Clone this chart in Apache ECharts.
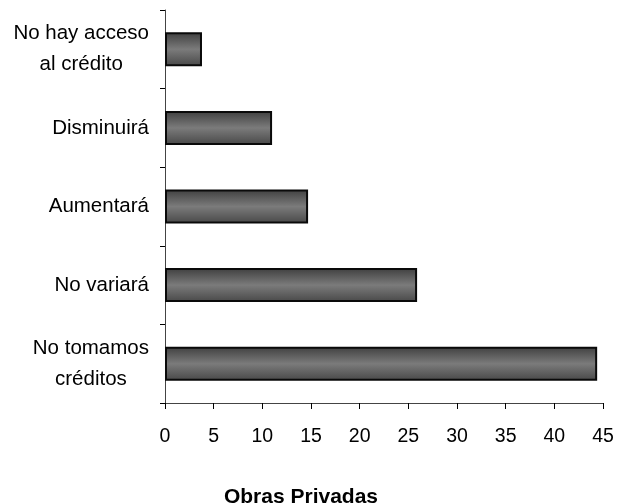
<!DOCTYPE html>
<html>
<head>
<meta charset="utf-8">
<script src="https://cdn.jsdelivr.net/npm/echarts@6/dist/echarts.min.js"></script>
<style>
html,body{margin:0;padding:0;background:#fff;}
#chart{width:617px;height:503px;}
</style>
</head>
<body>
<div id="chart"></div>
<script>
var categories = ['No hay acceso\nal crédito', 'Disminuirá', 'Aumentará', 'No variará', 'No tomamos\ncréditos'];
var values = [3.8, 11.0, 14.7, 25.9, 44.4];
var xTicks = [0, 5, 10, 15, 20, 25, 30, 35, 40, 45];
var titleText = 'Obras Privadas';

var chart = echarts.init(document.getElementById('chart'), null, {renderer: 'canvas'});
var font = 'Liberation Sans, Arial, sans-serif';
chart.setOption({
  backgroundColor: '#ffffff',
  animation: false,
  title: {
    text: titleText,
    left: 296,
    textAlign: 'center',
    top: 482,
    textStyle: {fontFamily: font, fontSize: 21, fontWeight: 'bold', color: '#000'}
  },
  grid: {left: 165, right: 14, top: 10, bottom: 100, containLabel: false},
  xAxis: {
    type: 'value',
    min: xTicks[0],
    max: xTicks[xTicks.length - 1],
    interval: xTicks[1] - xTicks[0],
    splitLine: {show: false},
    axisLine: {show: true, lineStyle: {color: '#444', width: 1}},
    axisTick: {show: true, length: 6, lineStyle: {color: '#000'}},
    axisLabel: {margin: 24, fontFamily: font, fontSize: 19.5, color: '#000'}
  },
  yAxis: {
    type: 'category',
    inverse: true,
    data: categories,
    axisLine: {show: true, lineStyle: {color: '#444', width: 1}},
    axisTick: {show: true, length: 5, lineStyle: {color: '#000'}},
    axisLabel: {
      margin: 16, align: 'right', color: '#000',
      formatter: function (v) {
        return v.split('\n').map(function (s) { return '{c|' + s + '}'; }).join('\n');
      },
      rich: {
        c: {fontFamily: font, fontSize: 20.5, color: '#000', align: 'center', lineHeight: 31}
      }
    },
    splitLine: {show: false}
  },
  series: [{
    type: 'bar',
    data: values,
    barWidth: 34,
    itemStyle: {
      color: new echarts.graphic.LinearGradient(0, 0, 0, 1, [
        {offset: 0, color: '#3f3f3f'},
        {offset: 0.5, color: '#7b7b7b'},
        {offset: 1, color: '#484848'}
      ]),
      borderColor: '#0a0a0a',
      borderWidth: 2
    }
  }]
});
</script>
</body>
</html>
